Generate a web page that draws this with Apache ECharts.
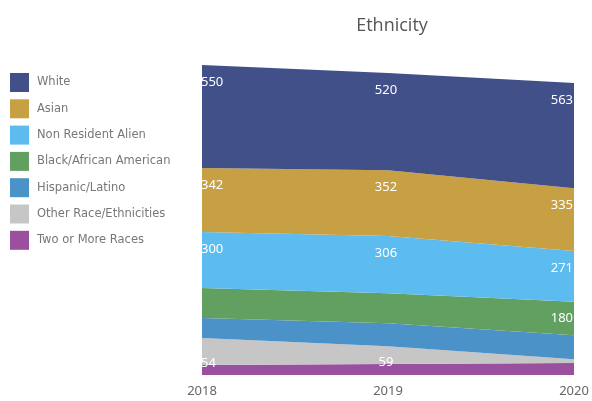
<!DOCTYPE html>
<html>
<head>
<meta charset="utf-8">
<script src="https://cdn.jsdelivr.net/npm/echarts@6/dist/echarts.min.js"></script>
<style>
html,body{margin:0;padding:0;background:#fff;}
#chart{width:592px;height:401px;}
</style>
</head>
<body>
<div id="chart"></div>
<script>
var years = ['2018', '2019', '2020'];
var seriesNames = ['Two or More Races', 'Other Race/Ethnicities', 'Hispanic/Latino', 'Black/African American', 'Non Resident Alien', 'Asian', 'White'];
var twoOrMore = [54, 59, 64];
var otherRace = [144, 95, 20];
var hispanic = [107, 123, 128];
var black = [160, 160, 180];
var nonResident = [300, 306, 271];
var asian = [342, 352, 335];
var white = [550, 520, 563];
var legendOrder = ['White', 'Asian', 'Non Resident Alien', 'Black/African American', 'Hispanic/Latino', 'Other Race/Ethnicities', 'Two or More Races'];
var colors = {
  'White': '#425089',
  'Asian': '#c8a044',
  'Non Resident Alien': '#5cbcf0',
  'Black/African American': '#62a062',
  'Hispanic/Latino': '#4b92c8',
  'Other Race/Ethnicities': '#c6c6c6',
  'Two or More Races': '#9a4f9f'
};
// which points carry a value label
var labelShown = {
  'Two or More Races': [true, true, false],
  'Other Race/Ethnicities': [false, false, false],
  'Hispanic/Latino': [false, false, false],
  'Black/African American': [false, false, true],
  'Non Resident Alien': [true, true, true],
  'Asian': [true, true, true],
  'White': [true, true, true]
};
var values = [twoOrMore, otherRace, hispanic, black, nonResident, asian, white];

var aligns = ['left', 'center', 'right'];
var series = seriesNames.map(function (name, si) {
  var small = (name === 'Two or More Races');
  return {
    name: name,
    type: 'line',
    stack: 'total',
    symbol: 'circle',
    symbolSize: 1,
    showSymbol: true,
    itemStyle: {color: colors[name], opacity: 0},
    lineStyle: {width: 0, color: colors[name]},
    areaStyle: {color: colors[name], opacity: 1},
    emphasis: {disabled: true},
    data: values[si].map(function (v, i) {
      return {
        value: v,
        label: {
          show: labelShown[name][i],
          position: 'bottom',
          distance: small ? -9 : 10,
          align: aligns[i],
          offset: [i === 0 ? -1 : (i === 2 ? -1 : -2), 0],
          color: '#ffffff',
          fontSize: 13,
          fontFamily: 'Noto Sans',
          opacity: 1
        }
      };
    })
  };
});

var chart = echarts.init(document.getElementById('chart'));
chart.setOption({
  animation: false,
  backgroundColor: '#ffffff',
  title: {
    text: 'Ethnicity',
    left: 387,
    textAlign: 'center',
    top: 12,
    textStyle: {fontSize: 18, fontWeight: 'normal', color: '#555555', fontFamily: 'Open Sans'}
  },
  legend: {
    data: legendOrder.map(function (n) {
      return {name: n, icon: 'rect', itemStyle: {color: colors[n], opacity: 1, borderWidth: 0}};
    }),
    orient: 'vertical',
    left: 10,
    top: 73,
    padding: 0,
    itemWidth: 19,
    itemHeight: 19,
    itemGap: 7.3,
    textStyle: {fontSize: 11.5, color: '#777777', fontFamily: 'DejaVu Sans', padding: [0, 0, 0, 3]},
    selectedMode: false
  },
  grid: {left: 202, right: 18, top: 57, bottom: 26},
  xAxis: {
    type: 'category',
    data: years,
    boundaryGap: false,
    axisLine: {show: false},
    axisTick: {show: false},
    axisLabel: {color: '#666666', fontSize: 13, margin: 10, fontFamily: 'Noto Sans'}
  },
  yAxis: {
    type: 'value',
    min: 0,
    max: 1700,
    show: false,
    splitLine: {show: false}
  },
  series: series
});
</script>
</body>
</html>
